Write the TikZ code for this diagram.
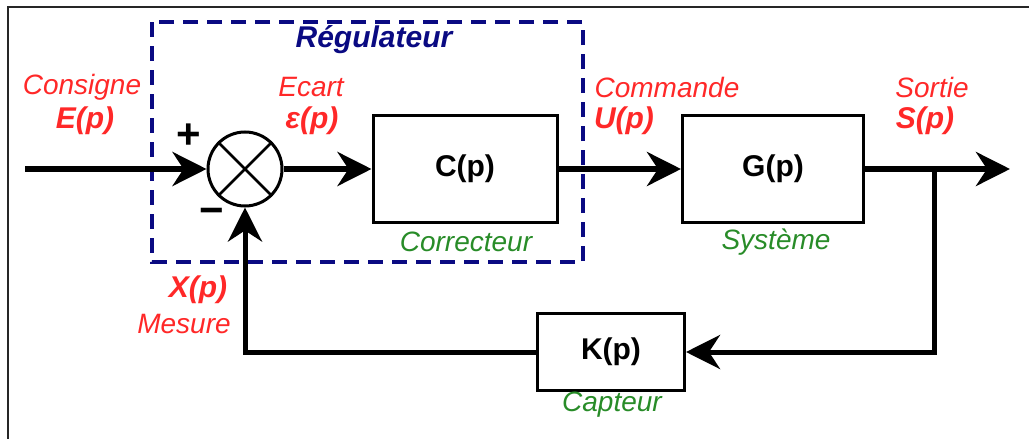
\documentclass[tikz,border=0pt]{standalone}
\usepackage{fontspec}
\setmainfont{Liberation Sans}
\usetikzlibrary{arrows.meta}
\definecolor{lred}{RGB}{255,40,40}
\definecolor{lnavy}{RGB}{10,10,130}
\definecolor{lgreen}{RGB}{40,140,40}
\tikzset{
  sig/.style={line width=5.5pt,-{Stealth[length=34pt,width=34pt,inset=11pt]}},
  wire/.style={line width=5pt},
  lab/.style={inner sep=0pt,font=\fontsize{28}{30}\selectfont\itshape},
  bl/.style={inner sep=0pt,font=\fontsize{30}{32}\selectfont\bfseries\itshape},
  redl/.style={lab,text=lred},
  redb/.style={bl,text=lred},
  grn/.style={lab,text=lgreen},
  bname/.style={inner sep=0pt,font=\fontsize{30}{32}\selectfont\bfseries},
  sign/.style={inner sep=0pt,font=\fontsize{42}{42}\selectfont\bfseries},
}
\begin{document}
\begin{tikzpicture}[x=1pt,y=-1pt]
\useasboundingbox (0,0) rectangle (1029,439);
% frame
\draw[line width=2pt,black!85] (1029,7) -- (8,7) -- (8,439);
% regulator dashed box
\draw[lnavy,line width=4pt,dash pattern=on 15pt off 9pt] (152,22) rectangle (583,262);
\node[bl,text=lnavy] (reg) at (374,40) {Régulateur};
% blocks
\node[draw,line width=3pt,minimum width=184pt,minimum height=107pt,inner sep=0pt] (C) at (465,169) {};
\node[bname] (Ct) at (465,169) {C(p)};
\node[draw,line width=3pt,minimum width=181pt,minimum height=107pt,inner sep=0pt] (G) at (773,169) {};
\node[bname] (Gt) at (773,169) {G(p)};
\node[draw,line width=3pt,minimum width=147pt,minimum height=77pt,inner sep=0pt] (K) at (611,352) {};
\node[bname] (Kt) at (611,352) {K(p)};
% summing junction
\node[draw,circle,line width=3pt,minimum size=74pt,inner sep=0pt] (s) at (245,169) {};
\draw[line width=2.5pt] (s.45) -- (s.225) (s.135) -- (s.315);
% connectors
\coordinate (in) at (25,169);
\coordinate (out) at (1010,169);
\coordinate (br) at (934,169);
\draw[sig] (in) -- (s.west);
\draw[sig] (s.east) -- (C.west);
\draw[sig] (C.east) -- (G.west);
\draw[sig] (G.east) -- (out);
\draw[wire,-{Stealth[length=34pt,width=34pt,inset=11pt]}] (br) |- (K.east);
\draw[wire,-{Stealth[length=34pt,width=34pt,inset=11pt]}] (K.west) -| (s.south);
% signs
\node[sign] (plus) at (189,136) {+};
\node[sign] (minus) at (212,216) {\textminus};
% labels
\node[redl] (cons) at (82,87) {Consigne};
\node[redb] (Ep) at (85,121) {E(p)};
\node[redl] (ecart) at (311,87) {Ecart};
\node[redb] (epsp) at (312,121) {ε(p)};
\node[redl] (comm) at (667,87) {Commande};
\node[redb] (Up) at (624,121) {U(p)};
\node[redl] (sort) at (932,87) {Sortie};
\node[redb] (Sp) at (925,121) {S(p)};
\node[redb] (Xp) at (198,290) {X(p)};
\node[redl] (mes) at (184,324) {Mesure};
\node[grn] (corr) at (466,242) {Correcteur};
\node[grn] (sys) at (776,242) {Système};
\node[grn] (capt) at (612,405) {Capteur};
\end{tikzpicture}
\end{document}
